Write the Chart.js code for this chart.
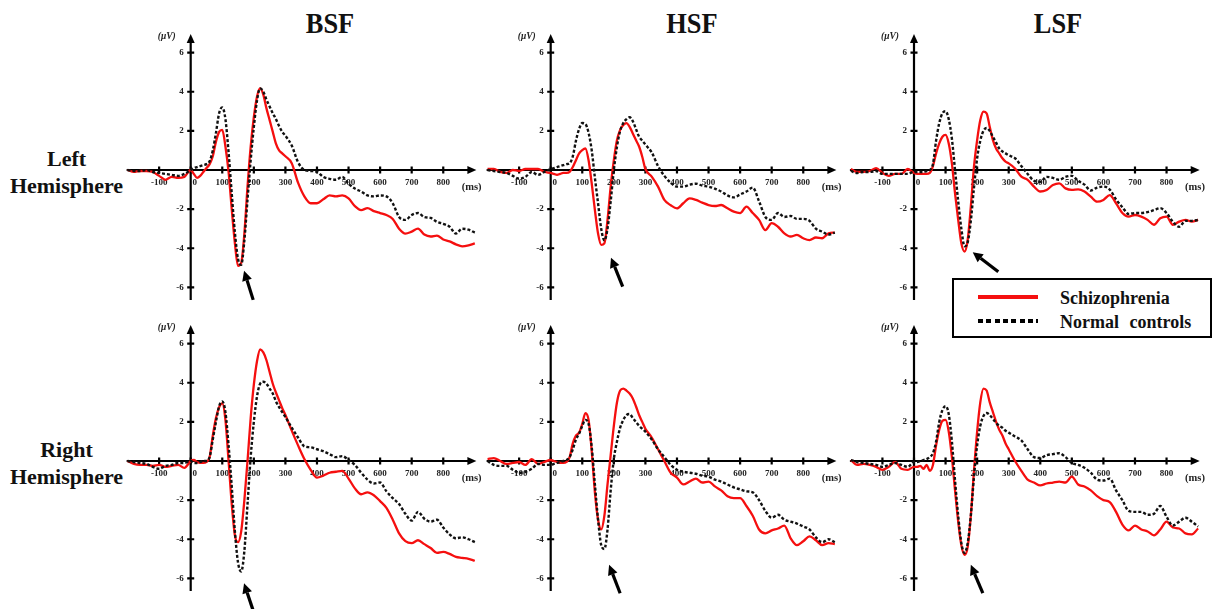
<!DOCTYPE html>
<html>
<head>
<meta charset="utf-8">
<script src="https://cdn.jsdelivr.net/npm/chart.js@4.4.1/dist/chart.umd.min.js"></script>
<style>
  body { margin: 0; width: 1214px; height: 609px; overflow: hidden; background: #fff; position: relative;
         font-family: "Liberation Serif", "Times New Roman", serif; color: #111; }
  canvas { position: absolute; }
  .title { position: absolute; top: 8px; width: 120px; text-align: center; font-weight: bold;
           font-size: 30px; line-height: 30px; transform: scaleX(0.88); }
  .row { position: absolute; left: 0; width: 133px; text-align: center; font-weight: bold;
         font-size: 22px; line-height: 26.5px; }
  #legend { position: absolute; left: 952px; top: 278px; width: 256px; height: 56px; border: 2px solid #000; }
  .sample { position: absolute; left: 24px; width: 60px; }
  .ltext { position: absolute; left: 106px; font-weight: bold; font-size: 18px; line-height: 18px; white-space: nowrap; }
</style>
</head>
<body>
<div class="title" style="left:270px">BSF</div>
<div class="title" style="left:632px">HSF</div>
<div class="title" style="left:998px">LSF</div>
<div class="row" style="top:146px">Left<br>Hemisphere</div>
<div class="row" style="top:437px">Right<br>Hemisphere</div>
<div id="legend">
  <div class="sample" style="top:15px;height:3.5px;background:rgb(245,15,15)"></div>
  <div class="ltext" style="top:9px">Schizophrenia</div>
  <div class="sample" style="top:39px;height:3.5px;background:repeating-linear-gradient(90deg,#000 0 5px,#fff 5px 8.3px)"></div>
  <div class="ltext" style="top:33px;word-spacing:6px">Normal controls</div>
</div>

<script>
// sample times (ms): 20 ms steps before 0 and after 300, 10 ms steps around the peaks
const times = [-200, -180, -160, -140, -120, -100, -80, -60, -40, -20, 0,
  10, 20, 30, 40, 50, 60, 70, 80, 90, 100, 110, 120, 130, 140, 150, 160, 170, 180, 190, 200,
  210, 220, 230, 240, 250, 260, 270, 280, 290, 300,
  320, 340, 360, 380, 400, 420, 440, 460, 480, 500, 520, 540, 560, 580, 600, 620, 640, 660, 680, 700,
  720, 740, 760, 780, 800, 820, 840, 860, 880, 900];

const xTicks = [-100, 0, 100, 200, 300, 400, 500, 600, 700, 800];
const yTicks = [6, 4, 2, -2, -4, -6];

// amplitudes in µV
const bsfLeftSchizo = [0.0, -0.1, -0.05, -0.05, -0.1, -0.3, -0.5, -0.35, -0.4, -0.35, 0.0,
  -0.2, -0.4, -0.3, -0.1, 0.1, 0.3, 0.7, 1.45, 1.95, 2.05, 1.2, -0.1, -2.0, -3.75, -4.9, -4.75, -3.25, -0.85, 1.2, 2.7,
  3.75, 4.17, 3.85, 3.15, 2.55, 1.95, 1.35, 1.0, 0.85, 0.7,
  0.35, -0.65, -1.35, -1.7, -1.7, -1.5, -1.3, -1.35, -1.3, -1.45, -1.85, -2.05, -1.95, -2.1, -2.2, -2.3, -2.5, -3.0, -3.25, -3.15,
  -3.0, -3.3, -3.4, -3.35, -3.55, -3.65, -3.8, -3.9, -3.85, -3.75];
const bsfLeftControl = [0.0, -0.05, -0.05, 0.0, -0.1, -0.15, -0.2, -0.25, -0.3, -0.2, 0.0,
  0.1, 0.15, 0.2, 0.25, 0.3, 0.45, 1.0, 1.9, 2.9, 3.2, 2.6, 0.9, -1.2, -3.2, -4.55, -4.85, -3.6, -1.5, 0.5, 2.2,
  3.55, 4.17, 4.0, 3.6, 3.25, 2.9, 2.6, 2.25, 1.95, 1.75,
  1.25, 0.4, 0.0, -0.05, -0.1, -0.35, -0.45, -0.5, -0.35, -0.7, -0.95, -1.1, -1.3, -1.35, -1.3, -1.35, -1.7, -2.4, -2.55, -2.3,
  -2.2, -2.4, -2.45, -2.65, -2.75, -2.9, -3.25, -3.0, -3.05, -3.2];

const hsfLeftSchizo = [0.05, 0.05, -0.1, -0.15, 0.0, -0.05, 0.05, 0.05, 0.05, -0.1, -0.15,
  -0.2, -0.25, -0.2, -0.15, -0.15, -0.1, 0.15, 0.5, 0.85, 1.02, 1.1, 0.5, -0.7, -2.05, -3.25, -3.83, -3.75, -2.55, -0.85, 0.5,
  1.53, 2.05, 2.3, 2.4, 2.2, 1.87, 1.53, 1.2, 0.68, 0.05,
  -0.34, -0.85, -1.53, -1.8, -1.96, -1.7, -1.45, -1.53, -1.67, -1.79, -1.84, -1.79, -1.96, -2.13, -2.2, -1.87, -2.2, -2.55, -3.07, -2.72,
  -2.9, -3.24, -3.4, -3.32, -3.49, -3.58, -3.45, -3.49, -3.24, -3.2];
const hsfLeftControl = [0.0, -0.05, -0.1, -0.15, -0.3, -0.45, -0.35, -0.1, -0.25, -0.1, 0.05,
  0.1, 0.15, 0.2, 0.25, 0.3, 0.35, 0.7, 1.5, 2.1, 2.4, 2.35, 1.9, 1.0, -0.4, -1.7, -3.0, -3.6, -3.0, -1.6, 0.0,
  1.2, 2.0, 2.4, 2.6, 2.7, 2.5, 2.1, 1.7, 1.5, 1.3,
  0.9, 0.2, -0.3, -0.65, -0.85, -0.85, -0.75, -0.7, -0.8, -0.85, -0.95, -1.1, -1.3, -1.4, -1.25, -1.1, -0.9, -1.6, -2.4, -2.55,
  -2.2, -2.4, -2.35, -2.5, -2.5, -2.6, -3.0, -3.15, -3.3, -3.2];

const lsfLeftSchizo = [0.05, -0.1, -0.1, -0.05, 0.1, -0.15, -0.3, -0.2, -0.2, 0.05, -0.15,
  -0.2, -0.2, -0.2, -0.2, -0.15, 0.2, 0.85, 1.36, 1.7, 1.8, 1.36, 0.34, -1.2, -2.55, -3.75, -4.17, -3.58, -1.87, 0.17, 1.53,
  2.55, 2.98, 2.9, 2.2, 1.53, 1.1, 0.85, 0.6, 0.43, 0.34,
  0.08, -0.34, -0.5, -0.85, -1.1, -1.02, -0.77, -0.68, -0.94, -1.02, -0.99, -1.1, -1.36, -1.62, -1.53, -1.28, -1.7, -2.2, -2.38, -2.3,
  -2.38, -2.55, -2.8, -2.47, -2.38, -2.8, -2.64, -2.55, -2.64, -2.55];
const lsfLeftControl = [-0.05, -0.15, -0.1, -0.1, -0.05, -0.2, -0.2, -0.2, -0.2, -0.2, -0.1,
  -0.1, -0.1, -0.1, -0.05, 0.0, 0.3, 1.5, 2.4, 2.9, 3.0, 2.6, 1.6, 0.0, -1.6, -3.0, -3.9, -3.7, -2.6, -0.9, 0.6,
  1.5, 2.0, 2.15, 2.0, 1.7, 1.4, 1.1, 0.95, 0.85, 0.75,
  0.6, 0.2, -0.2, -0.55, -0.6, -0.35, -0.4, -0.5, -0.35, -0.3, -0.55, -0.75, -1.05, -0.9, -0.85, -1.0, -1.5, -1.9, -2.25, -2.2,
  -2.2, -2.15, -2.05, -1.95, -2.2, -2.65, -2.9, -2.6, -2.6, -2.55];

const bsfRightSchizo = [0.0, -0.15, -0.2, -0.2, -0.25, -0.2, -0.3, -0.25, -0.2, -0.35, 0.0,
  0.05, -0.05, -0.1, -0.1, -0.05, 0.2, 1.3, 2.2, 2.75, 2.95, 2.1, 0.0, -2.2, -3.8, -4.15, -3.6, -2.0, 0.0, 2.2, 3.9,
  5.1, 5.7, 5.55, 5.15, 4.55, 3.95, 3.5, 3.1, 2.7, 2.35,
  1.55, 0.8, 0.1, -0.45, -0.85, -0.75, -0.6, -0.55, -0.5, -0.9, -1.4, -1.7, -1.6, -1.75, -2.05, -2.4, -3.0, -3.7, -4.1, -4.2,
  -4.05, -4.25, -4.45, -4.7, -4.65, -4.75, -4.9, -4.95, -5.0, -5.1];
const bsfRightControl = [0.0, -0.05, -0.1, -0.15, -0.3, -0.4, -0.25, -0.2, -0.1, -0.1, 0.0,
  -0.1, -0.1, -0.05, 0.0, 0.0, 0.2, 1.1, 2.0, 2.8, 3.05, 2.5, 0.8, -1.3, -3.6, -5.2, -5.65, -4.6, -2.2, 0.2, 2.0,
  3.3, 3.95, 4.05, 3.95, 3.7, 3.45, 3.05, 2.75, 2.5, 2.25,
  1.7, 1.2, 0.75, 0.7, 0.6, 0.5, 0.35, 0.2, 0.25, 0.05, -0.2, -0.6, -0.95, -1.15, -1.1, -1.55, -1.9, -2.2, -2.7, -3.05,
  -2.6, -2.95, -3.1, -3.0, -3.4, -3.75, -3.95, -3.9, -4.0, -4.15];

const hsfRightSchizo = [0.1, 0.15, 0.0, -0.15, -0.1, -0.05, -0.2, 0.1, -0.15, -0.05, 0.05,
  0.0, -0.05, -0.1, -0.1, -0.05, 0.2, 0.9, 1.3, 1.45, 1.9, 2.45, 2.1, 0.5, -1.6, -3.0, -3.5, -2.8, -1.2, 0.3, 1.8,
  3.0, 3.6, 3.7, 3.6, 3.45, 3.2, 2.8, 2.35, 2.0, 1.65,
  1.2, 0.6, 0.0, -0.6, -0.85, -1.2, -1.05, -0.9, -1.1, -1.05, -1.3, -1.5, -1.8, -1.9, -1.9, -2.3, -2.8, -3.5, -3.7, -3.55,
  -3.45, -3.3, -3.95, -4.3, -4.1, -3.85, -4.05, -4.3, -4.2, -4.25];
const hsfRightControl = [0.0, -0.2, -0.25, -0.25, -0.45, -0.6, -0.55, -0.4, -0.15, -0.2, -0.2,
  -0.15, -0.1, -0.05, 0.0, 0.05, 0.2, 0.6, 1.1, 1.4, 1.8, 2.1, 1.9, 0.7, -1.2, -3.0, -4.3, -4.5, -3.5, -1.5, 0.1,
  1.0, 1.7, 2.1, 2.35, 2.4, 2.2, 2.0, 1.8, 1.65, 1.5,
  1.1, 0.6, 0.2, -0.2, -0.45, -0.55, -0.6, -0.65, -0.75, -0.8, -0.95, -1.05, -1.2, -1.35, -1.45, -1.55, -1.6, -2.0, -2.55, -2.9,
  -2.75, -3.0, -3.1, -3.2, -3.35, -3.5, -3.9, -4.15, -4.0, -4.15];

const lsfRightSchizo = [0.05, -0.2, -0.15, -0.2, -0.3, -0.45, -0.3, -0.05, -0.4, -0.45, -0.3,
  -0.3, -0.25, -0.4, -0.2, -0.5, -0.2, 0.8, 1.6, 2.05, 2.1, 1.5, 0.2, -1.5, -3.1, -4.3, -4.8, -4.4, -2.8, -0.5, 1.5,
  3.0, 3.7, 3.6, 3.0, 2.5, 2.0, 1.6, 1.3, 0.9, 0.6,
  0.0, -0.5, -0.95, -1.1, -1.25, -1.15, -1.1, -1.05, -1.1, -0.8, -1.2, -1.3, -1.5, -1.8, -2.0, -2.1, -2.6, -3.25, -3.55, -3.3,
  -3.5, -3.6, -3.8, -3.5, -3.1, -3.4, -3.45, -3.7, -3.75, -3.45];
const lsfRightControl = [0.05, -0.05, -0.1, -0.15, -0.2, -0.3, -0.2, -0.1, -0.2, -0.3, -0.05,
  -0.05, 0.0, 0.05, 0.1, 0.2, 0.4, 1.0, 2.0, 2.6, 2.8, 2.4, 1.0, -1.0, -2.8, -4.2, -4.7, -4.2, -2.8, -0.8, 0.8,
  1.8, 2.3, 2.45, 2.35, 2.15, 1.95, 1.8, 1.7, 1.55, 1.45,
  1.25, 1.05, 0.6, 0.2, 0.15, 0.3, 0.35, 0.4, 0.2, -0.1, -0.2, -0.35, -0.6, -0.95, -1.0, -0.9, -1.5, -2.0, -2.55, -2.6,
  -2.6, -2.75, -2.7, -2.3, -2.85, -3.3, -3.1, -2.9, -3.1, -3.35];

// arrows pointing at the N170 trough: [tip ms, tip µV, tail ms, tail µV]
const panels = [
  { axisX: 190.7, axisY: 170, schizo: bsfLeftSchizo,  control: bsfLeftControl,  arrow: [169, -5.15, 198, -6.64] },
  { axisX: 550.7, axisY: 170, schizo: hsfLeftSchizo,  control: hsfLeftControl,  arrow: [191, -4.48, 228, -5.96] },
  { axisX: 914,   axisY: 170, schizo: lsfLeftSchizo,  control: lsfLeftControl,  arrow: [186, -4.2, 267, -5.2] },
  { axisX: 190.7, axisY: 461, schizo: bsfRightSchizo, control: bsfRightControl, arrow: [169, -6.25, 199, -7.7] },
  { axisX: 550.7, axisY: 461, schizo: hsfRightSchizo, control: hsfRightControl, arrow: [185, -5.31, 220, -6.76] },
  { axisX: 914,   axisY: 461, schizo: lsfRightSchizo, control: lsfRightControl, arrow: [180, -5.31, 218, -6.76] }
];

const X_MIN = -205, X_MAX = 910, Y_MIN = -6.7, Y_MAX = 7.0;
const AREA_W = 352, AREA_H = 268, CANVAS_W = 380, CANVAS_H = 300;
const RED = 'rgb(245,15,15)';
const SERIF = '"Liberation Serif", "Times New Roman", serif';

// axes through the origin, with arrows and crossing ticks
const erpAxes = {
  id: 'erpAxes',
  beforeDatasetsDraw(chart) {
    const { ctx, scales: { x, y } } = chart;
    const x0 = x.getPixelForValue(0), y0 = y.getPixelForValue(0);
    ctx.save();
    ctx.strokeStyle = '#000';
    ctx.fillStyle = '#000';
    ctx.lineWidth = 2.2;

    const xl = x.getPixelForValue(-203), xr = x.getPixelForValue(905);
    ctx.beginPath(); ctx.moveTo(xl, y0); ctx.lineTo(xr - 6, y0); ctx.stroke();
    ctx.beginPath(); ctx.moveTo(xr, y0); ctx.lineTo(xr - 9, y0 - 4); ctx.lineTo(xr - 9, y0 + 4); ctx.closePath(); ctx.fill();

    const yt = y.getPixelForValue(6.95), yb = y.getPixelForValue(-6.65);
    ctx.beginPath(); ctx.moveTo(x0, yb); ctx.lineTo(x0, yt + 6); ctx.stroke();
    ctx.beginPath(); ctx.moveTo(x0, yt); ctx.lineTo(x0 - 4, yt + 9); ctx.lineTo(x0 + 4, yt + 9); ctx.closePath(); ctx.fill();

    ctx.beginPath();
    xTicks.forEach(t => { const px = x.getPixelForValue(t); ctx.moveTo(px, y0 - 3.5); ctx.lineTo(px, y0 + 3.5); });
    yTicks.forEach(v => { const py = y.getPixelForValue(v); ctx.moveTo(x0 - 3.5, py); ctx.lineTo(x0 + 3.5, py); });
    ctx.stroke();

    ctx.fillStyle = '#222';
    ctx.font = 'bold 9px ' + SERIF;
    ctx.textAlign = 'center';
    ctx.textBaseline = 'middle';
    xTicks.forEach(t => ctx.fillText(String(t), x.getPixelForValue(t) + (t === 0 ? 4 : 0), y0 + 13));
    ctx.textAlign = 'right';
    yTicks.forEach(v => ctx.fillText(String(v), x0 - 7, y.getPixelForValue(v)));

    ctx.textAlign = 'center';
    ctx.font = 'bold italic 9.5px ' + SERIF;
    ctx.fillText('(\u03BCV)', x0 - 24, y.getPixelForValue(6.8));
    ctx.font = 'bold 10.5px ' + SERIF;
    ctx.fillText('(ms)', x.getPixelForValue(890), y0 + 17);
    ctx.restore();
  },
  afterDatasetsDraw(chart, args, opts) {
    const a = opts.arrow;
    if (!a) return;
    const { ctx, scales: { x, y } } = chart;
    const tx = x.getPixelForValue(a[0]), ty = y.getPixelForValue(a[1]);
    const sx = x.getPixelForValue(a[2]), sy = y.getPixelForValue(a[3]);
    const ang = Math.atan2(ty - sy, tx - sx);
    const head = 10, half = 5;
    const bx = tx - head * Math.cos(ang), by = ty - head * Math.sin(ang);
    ctx.save();
    ctx.strokeStyle = '#000';
    ctx.fillStyle = '#000';
    ctx.lineWidth = 3.2;
    ctx.beginPath(); ctx.moveTo(sx, sy); ctx.lineTo(bx, by); ctx.stroke();
    ctx.beginPath();
    ctx.moveTo(tx, ty);
    ctx.lineTo(bx + half * Math.sin(ang), by - half * Math.cos(ang));
    ctx.lineTo(bx - half * Math.sin(ang), by + half * Math.cos(ang));
    ctx.closePath(); ctx.fill();
    ctx.restore();
  }
};

const toPoints = vals => times.map((t, i) => ({ x: t, y: vals[i] }));

panels.forEach(p => {
  const pxPerMs = AREA_W / (X_MAX - X_MIN);
  const pxPerUv = AREA_H / (Y_MAX - Y_MIN);
  const areaLeft = p.axisX + X_MIN * pxPerMs;
  const areaTop = p.axisY - Y_MAX * pxPerUv;
  const left = Math.floor(areaLeft) - 10, top = Math.floor(areaTop) - 8;
  const padL = areaLeft - left, padT = areaTop - top;

  const canvas = document.createElement('canvas');
  canvas.width = CANVAS_W;
  canvas.height = CANVAS_H;
  canvas.style.left = left + 'px';
  canvas.style.top = top + 'px';
  document.body.appendChild(canvas);

  new Chart(canvas, {
    type: 'line',
    data: {
      datasets: [
        { label: 'Normal controls', data: toPoints(p.control), borderColor: '#111', borderWidth: 2.4,
          borderDash: [3, 2], pointRadius: 0, cubicInterpolationMode: 'monotone', fill: false },
        { label: 'Schizophrenia', data: toPoints(p.schizo), borderColor: RED, borderWidth: 2.3,
          pointRadius: 0, cubicInterpolationMode: 'monotone', fill: false }
      ]
    },
    options: {
      responsive: false,
      animation: false,
      devicePixelRatio: 1,
      events: [],
      layout: { padding: { left: padL, top: padT, right: CANVAS_W - padL - AREA_W, bottom: CANVAS_H - padT - AREA_H } },
      scales: {
        x: { type: 'linear', min: X_MIN, max: X_MAX, display: false },
        y: { type: 'linear', min: Y_MIN, max: Y_MAX, display: false }
      },
      plugins: {
        legend: { display: false },
        tooltip: { enabled: false },
        erpAxes: { arrow: p.arrow }
      }
    },
    plugins: [erpAxes]
  });
});
</script>
</body>
</html>
